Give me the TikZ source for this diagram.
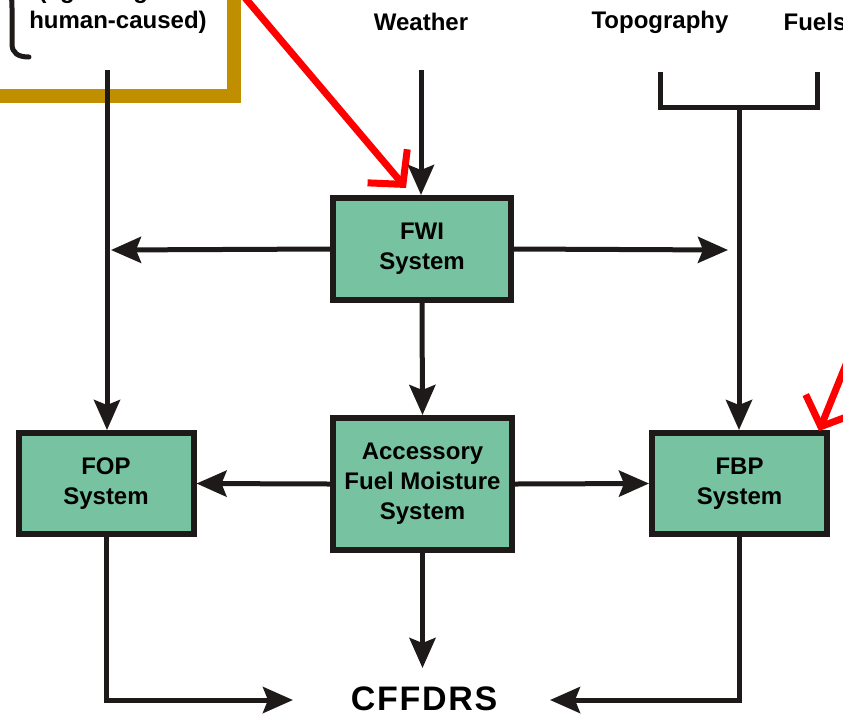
\documentclass[tikz,border=0pt]{standalone}
\usepackage{fontspec}
\setmainfont{Liberation Sans}
\usetikzlibrary{arrows.meta,positioning,calc}
\definecolor{boxgreen}{HTML}{77C3A1}
\definecolor{framegold}{HTML}{C08F00}
\definecolor{ink}{HTML}{1E1A1A}

\begin{document}
\begin{tikzpicture}[x=1pt,y=-1pt,line join=miter,>={Stealth[length=30pt,width=26pt,inset=5pt]},
    sys/.style={draw=ink,line width=6pt,fill=boxgreen,align=center,font=\bfseries\fontsize{24}{30}\selectfont},
    lbl/.style={font=\bfseries\fontsize{24}{30}\selectfont,align=center,inner sep=0pt},
    flow/.style={->,line width=5pt,draw=ink},
    hint/.style={-{Straight Barb[length=24pt,width=52pt]},line width=7pt,red,line cap=round,line join=round}]

        % --- Frame ---
        \useasboundingbox (0,0) rectangle (843,716);
        \clip (0,0) rectangle (843,716);

        % --- Variables ---
        \coordinate (ign) at (107,70);
        \coordinate (wx) at (421,70);
        \coordinate (topo0) at (660,72);
        \coordinate (fuel0) at (817,72);
        \coordinate (fork) at (739,107);
        \coordinate (fwil) at (111,250);
        \coordinate (fwir) at (728,250);
        \coordinate (cdown) at (422.5,668);
        \coordinate (cleft) at (293,700);
        \coordinate (cright) at (550,700);
        \coordinate (fwihint) at (406,188);
        \coordinate (fbphint) at (819,431);

        % Red pointer into the FWI box (under the gold frame)
        \draw[hint] (230,-20) -- (fwihint);

        % Gold frame round the causes
        \draw[framegold,line width=14pt] (-30,-30) rectangle (233.5,95.5);

        % Brace before the causes
        \draw[ink,line width=5pt,line cap=round] (2,-10) .. controls (12,-8) and (12,-2) .. (12,8) -- (12,44) .. controls (12,53) and (18,57) .. (29,57);

        % labels on top
        \node[lbl] (cause) at (118,7) {(lightning and\\human-caused)};
        \node[lbl] (weather) at (421,22) {Weather};
        \node[lbl] (topo) at (660,22) {Topography};
        \node[lbl] (fuels) at (815,22) {Fuels};

        % Systems
        \node[sys,minimum width=178pt,minimum height=102pt] (fwi) at (422,249) {FWI\\System};
        \node[sys,minimum width=179pt,minimum height=132pt] (afm) at (422.5,484) {Accessory\\Fuel Moisture\\System};
        \node[sys,minimum width=175pt,minimum height=101pt] (fop) at (106,483.5) {FOP\\System};
        \node[sys,minimum width=175pt,minimum height=101pt] (fbp) at (739.5,483.5) {FBP\\System};

        % Output
        \node[font=\bfseries\fontsize{34}{36}\selectfont\addfontfeature{LetterSpace=5},inner sep=0pt] (cffdrs) at (424,699) {CFFDRS};

        % Inputs
        \draw[flow] (ign) -- (ign |- fop.north);
        \draw[flow] (wx) -- (wx |- fwi.north);
        \draw[ink,line width=5pt] (topo0) |- (fork) -| (fuel0);
        \draw[flow] (fork) -- (fork |- fbp.north);

        % FWI outputs
        \draw[flow] (fwi.west) -- (fwil);
        \draw[flow] (fwi.east) -- (fwir);
        \draw[flow] (fwi.south) -- (afm.north);

        % Accessory outputs
        \draw[flow] (afm.west) -- (fop.east);
        \draw[flow] (afm.east) -- (fbp.west);
        \draw[flow] (afm.south) -- (cdown);

        % Into CFFDRS
        \draw[flow] (fop.south) |- (cleft);
        \draw[flow] (fbp.south) |- (cright);

        % Red pointer at the FBP box
        \draw[hint] (860,330) -- (fbphint);

\end{tikzpicture}
\end{document}
